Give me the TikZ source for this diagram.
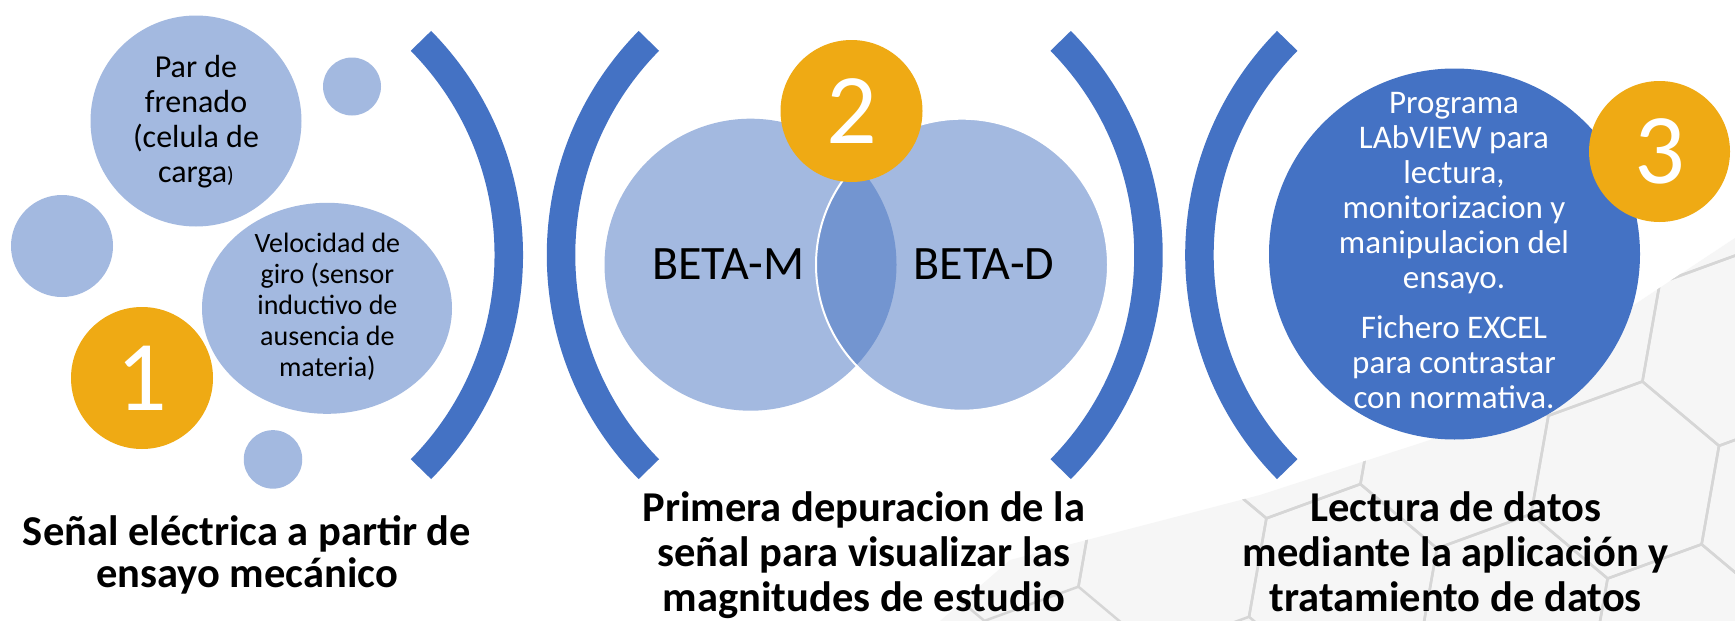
\documentclass[tikz,border=0pt]{standalone}
\usepackage{fontspec}
\setmainfont{Carlito}
\usetikzlibrary{shapes.geometric,positioning}
\definecolor{lightblue}{HTML}{A3B9E0}
\definecolor{darkblue}{HTML}{4472C4}
\definecolor{venndark}{HTML}{7395D0}
\definecolor{gold}{HTML}{EFAA14}
\tikzstyle{bubble}=[ellipse,fill=lightblue,inner sep=0pt]
\tikzstyle{badge}=[circle,fill=gold,inner sep=0pt,text=white,font=\fontsize{100}{100}\selectfont]
\tikzstyle{bubbletext}=[align=center,inner sep=0pt]
\tikzstyle{bracket}=[draw=darkblue,line width=28.5pt]
\tikzstyle{caption}=[align=center,inner sep=0pt,font=\bfseries\fontsize{42.5}{45}\selectfont]
\tikzstyle{hexline}=[draw=gray!32,line width=2.5pt]

\begin{document}
\begin{tikzpicture}[x=1pt,y=-1pt]
\fill[white] (0,0) rectangle (1735,621);
\useasboundingbox (0,0) rectangle (1735,621);

% faint hexagon texture, bottom right
\begin{scope}
	\clip (940,621) -- (1010,560) -- (1260,495) -- (1430,440) -- (1735,238) -- (1735,621) -- cycle;
	\fill[gray!7] (900,200) rectangle (1735,621);
	\foreach \i in {-6,...,1}
		\foreach \j in {-2,...,1}
		{
			\pgfmathsetmacro{\hx}{1625+\i*170.6+\j*59.2}
			\pgfmathsetmacro{\hy}{480+\i*30.1+\j*162.8}
			\draw[hexline] (\hx,\hy) +(20:100pt) -- +(80:100pt) -- +(140:100pt) -- +(200:100pt) -- +(260:100pt) -- +(320:100pt) -- cycle;
		}
\end{scope}

% brackets
\foreach \cx/\a in {203.8/-44.6, 843.5/-44.6, 866/135.4, 1504.4/135.4}
	\draw[bracket] (\cx,255) ++(\a:305pt) arc[start angle=\a, end angle=\a+89.2, radius=305pt];

% step 1
\node (par) at (196,121) [bubble,minimum size=211pt]{};
\node (dotA) at (352,86.5) [bubble,minimum size=58pt]{};
\node (dotB) at (62,246) [bubble,minimum size=102pt]{};
\node (dotC) at (273,459.4) [bubble,minimum size=58.5pt]{};
\node (vel) at (327,308.3) [bubble,minimum width=250pt,minimum height=211pt]{};
\node (one) at (142,378) [badge,minimum size=142pt]{1};
\node (partext) at (196,121.4) [bubbletext,font=\fontsize{32}{35}\selectfont]{Par de\\frenado\\(celula de\\carga{\fontsize{22}{22}\selectfont)}};
\node (veltext) at (327.4,306.8) [bubbletext,font=\fontsize{28}{31}\selectfont]{Velocidad de\\giro (sensor\\inductivo de\\ausencia de\\materia)};

% step 2
\coordinate (mc) at (750.5,264.7);
\coordinate (dc) at (962,264.7);
\node (betam) at (mc) [bubble,minimum size=292pt]{};
\node (betad) at (dc) [bubble,minimum size=292pt]{};
\begin{scope}
	\clip (mc) circle [radius=146pt];
	\fill[venndark] (dc) circle [radius=146pt];
\end{scope}
\draw[white,line width=2pt] (dc) circle [radius=146pt];
\node (two) at (851.5,111) [badge,minimum size=142pt]{2};
\node (mtext) at (728.4,264) [bubbletext,font=\fontsize{48}{48}\selectfont]{BETA-M};
\node (dtext) at (984,264) [bubbletext,font=\fontsize{48}{48}\selectfont]{BETA-D};

% step 3
\node (prog) at (1454.5,254) [circle,fill=darkblue,inner sep=0pt,minimum size=371pt]{};
\node (three) at (1659.5,151.5) [badge,minimum size=141pt]{3};
\node (progtext) at (1454,250.5) [bubbletext,text=white,font=\fontsize{33}{35}\selectfont]{Programa\\LAbVIEW para\\lectura,\\monitorizacion y\\manipulacion del\\ensayo.\\[14.5pt]Fichero EXCEL\\para contrastar\\con normativa.};

% captions
\node (cap1) at (247,554.7) [caption,font=\bfseries\fontsize{42.5}{42}\selectfont]{Señal eléctrica a partir de\\ensayo mecánico};
\node (cap2) at (864,555.3) [caption]{Primera depuracion de la\\señal para visualizar las\\magnitudes de estudio};
\node (cap3) at (1455.8,551.7) [caption]{Lectura de datos\\mediante la aplicación y\\tratamiento de datos};
\end{tikzpicture}
\end{document}
